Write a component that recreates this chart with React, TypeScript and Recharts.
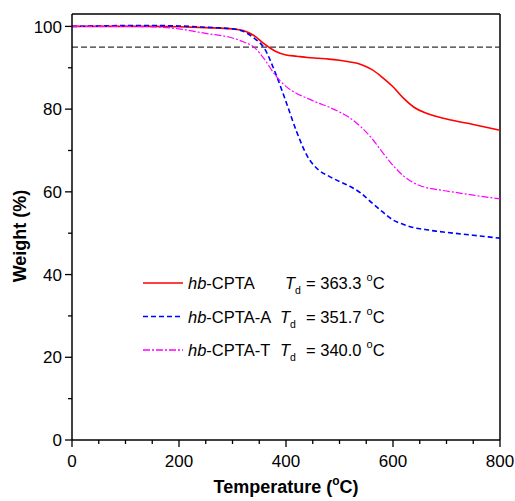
import React from "react";
import {
  LineChart,
  Line,
  XAxis,
  YAxis,
  Legend,
  ReferenceLine,
  Label,
} from "recharts";

// temperature (°C) sample points
const temps = [
  0, 50, 100, 150, 200, 250, 300, 320, 340, 360, 380, 400, 420, 440, 460, 480,
  500, 520, 540, 560, 580, 600, 620, 640, 660, 680, 700, 750, 800,
];

// weight (%)
const cpta = [
  100, 100, 100, 100, 99.9, 99.7, 99.4, 99.0, 97.8, 95.7, 94.0, 93.1, 92.8,
  92.5, 92.3, 92.1, 91.8, 91.4, 90.8, 89.6, 87.7, 85.4, 82.6, 80.4, 79.1, 78.3,
  77.6, 76.3, 74.9,
];
const cptaA = [
  100, 100.1, 100.2, 100.2, 100.1, 99.8, 99.4, 98.8, 97.2, 94.6, 88.8, 81.8,
  74.5, 68.6, 65.4, 63.8, 62.5, 61.3, 59.7, 57.4, 55.2, 53.2, 52.1, 51.3, 50.9,
  50.5, 50.2, 49.5, 48.8,
];
const cptaT = [
  100, 100, 100, 99.9, 99.4, 98.3, 97.2, 96.3, 95.0, 92.0, 88.2, 85.5, 83.8,
  82.6, 81.5, 80.5, 79.3, 77.8, 75.7, 73.0, 69.6, 66.4, 63.8, 62.1, 61.1, 60.6,
  60.2, 59.2, 58.3,
];

const seriesKeys = ["cpta", "cptaA", "cptaT"];
const seriesSuffix = ["CPTA", "CPTA-A", "CPTA-T"];
const tdValues = ["363.3", "351.7", "340.0"];

const xTicks = [
  0, 50, 100, 150, 200, 250, 300, 350, 400, 450, 500, 550, 600, 650, 700, 750,
  800,
];
const yTicks = [0, 10, 20, 30, 40, 50, 60, 70, 80, 90, 100];

const data = temps.map((t, i) => ({
  t,
  cpta: cpta[i],
  cptaA: cptaA[i],
  cptaT: cptaT[i],
}));

const FONT = "'Liberation Sans', Arial, Helvetica, sans-serif";

const YTick = (props: any) => {
  const { x, y, payload } = props;
  const major = payload.value % 20 === 0;
  return (
    <g>
      <line
        x1={x}
        x2={x - (major ? 7 : 4)}
        y1={y}
        y2={y}
        stroke="#000"
        strokeWidth={1.3}
      />
      {major && (
        <text
          x={x - 10}
          y={y}
          dy="0.36em"
          textAnchor="end"
          fontSize={17}
          fontFamily={FONT}
          fill="#000"
        >
          {payload.value}
        </text>
      )}
    </g>
  );
};

const XTick = (props: any) => {
  const { x, y, payload } = props;
  const major = payload.value % 200 === 0;
  return (
    <g>
      <line
        x1={x}
        x2={x}
        y1={y}
        y2={y + (major ? 7 : 4)}
        stroke="#000"
        strokeWidth={1.3}
      />
      {major && (
        <text
          x={x}
          y={y + 27}
          textAnchor="middle"
          fontSize={17}
          fontFamily={FONT}
          fill="#000"
        >
          {payload.value}
        </text>
      )}
    </g>
  );
};

const LegendBox = (props: any) => {
  const { payload } = props;
  return (
    <svg width={280} height={100} style={{ overflow: "visible" }}>
      {(payload || []).map((p: any, i: number) => {
        const idx = seriesKeys.indexOf(p.dataKey);
        const y = 18 + i * 33.5;
        return (
          <g key={p.dataKey}>
            <line
              x1={13}
              x2={53}
              y1={y}
              y2={y}
              stroke={p.color}
              strokeWidth={1.3}
              strokeDasharray={p.payload?.strokeDasharray}
            />
            <text
              x={58}
              y={y + 6}
              fontSize={16.5}
              fontFamily={FONT}
              fill="#000"
            >
              <tspan fontStyle="italic">hb</tspan>
              <tspan>-{seriesSuffix[idx]}</tspan>
            </text>
            <text
              x={idx === 0 ? 155 : 150}
              y={y + 6}
              fontSize={16.5}
              fontFamily={FONT}
              fill="#000"
            >
              <tspan fontStyle="italic">T</tspan>
              <tspan fontSize={10.5} dy={5}>
                d
              </tspan>
              <tspan x={176} dy={-5}>
                = {tdValues[idx]}
              </tspan>
              <tspan fontSize={11} dx={5} dy={-8}>
                o
              </tspan>
              <tspan dy={8}>C</tspan>
            </text>
          </g>
        );
      })}
    </svg>
  );
};

const App: React.FC = () => {
  return (
    <div style={{ position: "absolute", left: 0, top: 0 }}>
      <LineChart
        width={515}
        height={501}
        data={data}
        margin={{ top: 14, right: 15, left: 0, bottom: 0 }}
        style={{ background: "#fff" }}
      >
        <XAxis
          dataKey="t"
          type="number"
          domain={[0, 800]}
          ticks={xTicks}
          interval={0}
          height={61}
          tickSize={0}
          tickMargin={0}
          tick={<XTick />}
          axisLine={{ stroke: "#000", strokeWidth: 1.5 }}
        >
          <Label
            content={() => (
              <text
                x={286}
                y={493}
                textAnchor="middle"
                fontSize={18}
                fontWeight="bold"
                fontFamily={FONT}
                fill="#000"
              >
                <tspan>Temperature (</tspan>
                <tspan fontSize={12} dy={-8}>
                  o
                </tspan>
                <tspan dy={8}>C)</tspan>
              </text>
            )}
          />
        </XAxis>
        <YAxis
          type="number"
          domain={[0, 103]}
          ticks={yTicks}
          interval={0}
          width={72}
          tickSize={0}
          tickMargin={0}
          tick={<YTick />}
          axisLine={{ stroke: "#000", strokeWidth: 1.5 }}
        >
          <Label
            content={() => (
              <text
                x={26}
                y={236}
                transform="rotate(-90 26 236)"
                textAnchor="middle"
                fontSize={18}
                fontWeight="bold"
                fontFamily={FONT}
                fill="#000"
              >
                Weight (%)
              </text>
            )}
          />
        </YAxis>
        <ReferenceLine y={103} stroke="#000" strokeWidth={1.5} />
        <ReferenceLine x={800} stroke="#000" strokeWidth={1.5} />
        <ReferenceLine
          y={95}
          stroke="#333"
          strokeWidth={1.4}
          strokeDasharray="6 3"
        />
        <Legend
          layout="vertical"
          align="center"
          verticalAlign="middle"
          wrapperStyle={{ left: 130, top: 265, width: 280, height: 100 }}
          content={<LegendBox />}
        />
        <Line
          dataKey="cpta"
          type="monotone"
          stroke="#ff0000"
          strokeWidth={1.6}
          dot={false}
          isAnimationActive={false}
        />
        <Line
          dataKey="cptaA"
          type="monotone"
          stroke="#0000ff"
          strokeWidth={1.6}
          strokeDasharray="5 3"
          dot={false}
          isAnimationActive={false}
        />
        <Line
          dataKey="cptaT"
          type="monotone"
          stroke="#ff00ff"
          strokeWidth={1.2}
          strokeDasharray="7 2 2 2"
          dot={false}
          isAnimationActive={false}
        />
      </LineChart>
    </div>
  );
};

export default App;
